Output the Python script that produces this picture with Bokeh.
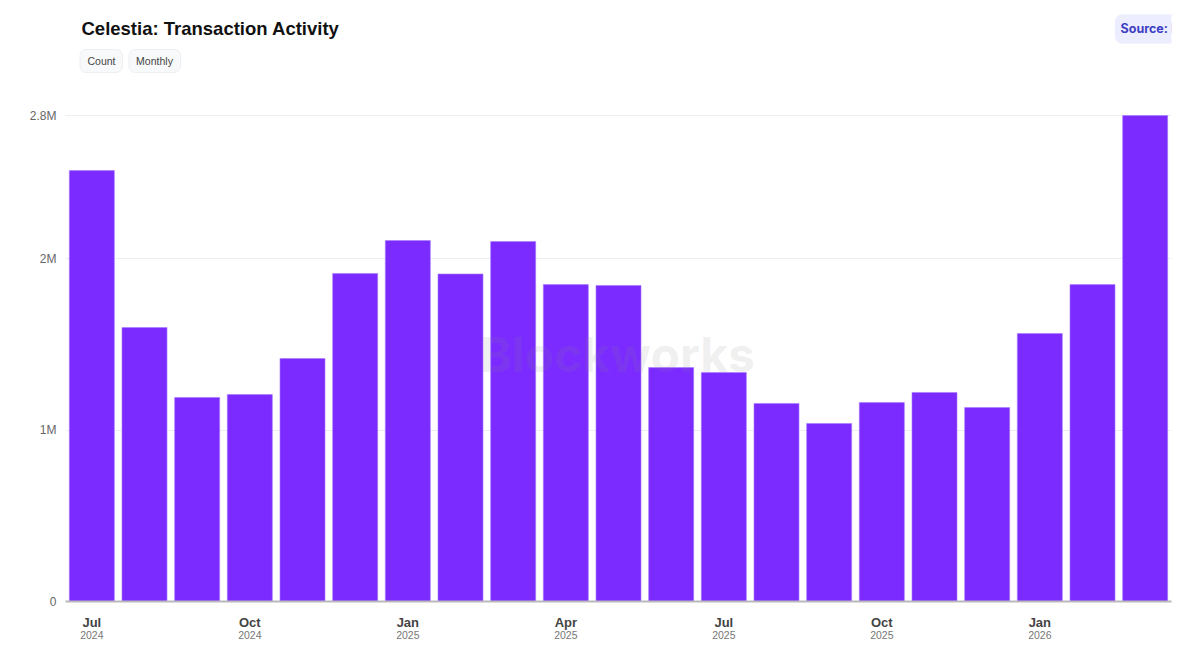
from bokeh.embed import file_html
from bokeh.layouts import column
from bokeh.models import BoxAnnotation, ColumnDataSource, FixedTicker, Label, LinearAxis
from bokeh.plotting import figure
from bokeh.resources import INLINE

months = ["Jul 2024", "Aug 2024", "Sep 2024", "Oct 2024", "Nov 2024", "Dec 2024", "Jan 2025",
          "Feb 2025", "Mar 2025", "Apr 2025", "May 2025", "Jun 2025", "Jul 2025", "Aug 2025",
          "Sep 2025", "Oct 2025", "Nov 2025", "Dec 2025", "Jan 2026", "Feb 2026", "Mar 2026"]
tx_count = [2513000, 1598000, 1190000, 1207000, 1417000, 1913000, 2105000,
            1910000, 2099000, 1848000, 1843000, 1364000, 1335000, 1155000,
            1038000, 1160000, 1219000, 1131000, 1563000, 1848000, 2834000]
y_ticks = [0, 1000000, 2000000, 2834000]
y_labels = ["0", "1M", "2M", "2.8M"]
x_ticks = [0, 3, 6, 9, 12, 15, 18]

WIDTH = 1192
HEADER_H = 90
CHART_H = 561
FRAME_LEFT = 65
SANS = "Liberation Sans"

source = ColumnDataSource(data=dict(x=list(range(len(months))), count=tx_count))

# annotations get clipped to the frame, so title and pills live in their own strip on top
header = figure(width=WIDTH, height=HEADER_H, x_range=(0, 1), y_range=(0, 1), output_backend="svg",
                toolbar_location=None, x_axis_type=None, y_axis_type=None,
                min_border_left=0, min_border_right=0, min_border_top=0, min_border_bottom=0)
header.outline_line_color = None
header.grid.visible = False

p = figure(width=WIDTH, height=CHART_H, x_range=(-0.5, len(months) - 0.5), y_range=(0, 2840000),
           output_backend="svg", toolbar_location=None, x_axis_type=None,
           min_border_left=FRAME_LEFT, min_border_right=21, min_border_top=114 - HEADER_H,
           min_border_bottom=HEADER_H + CHART_H - 601)
p.outline_line_color = None
p.background_fill_color = "white"

p.vbar(x="x", top="count", width=0.855, source=source, fill_color="#7b2bff",
       line_color="#a878ff", line_width=0.6)

# y axis, top tick sits on the max value
p.yaxis.ticker = FixedTicker(ticks=y_ticks)
p.yaxis.major_label_overrides = dict(zip(y_ticks, y_labels))
p.yaxis.axis_line_color = None
p.yaxis.major_tick_line_color = None
p.yaxis.minor_tick_line_color = None
p.yaxis.major_label_standoff = 3
p.yaxis.major_label_text_font = SANS
p.yaxis.major_label_text_font_size = "12px"
p.yaxis.major_label_text_color = "#666666"
p.ygrid.ticker = FixedTicker(ticks=y_ticks)
p.ygrid.grid_line_color = "#eeeeee"
p.xgrid.grid_line_color = None

# month and year are two stacked axes
month_axis = LinearAxis(ticker=FixedTicker(ticks=x_ticks),
                        major_label_overrides={i: months[i].split()[0] for i in x_ticks})
month_axis.axis_line_color = "#b9b9bd"
month_axis.axis_line_width = 2
month_axis.major_tick_line_color = None
month_axis.minor_tick_line_color = None
month_axis.major_label_standoff = 7
month_axis.major_label_text_font = SANS
month_axis.major_label_text_font_style = "bold"
month_axis.major_label_text_font_size = "13px"
month_axis.major_label_text_color = "#444444"
p.add_layout(month_axis, "below")

year_axis = LinearAxis(ticker=FixedTicker(ticks=x_ticks),
                       major_label_overrides={i: months[i].split()[1] for i in x_ticks})
year_axis.axis_line_color = None
year_axis.major_tick_line_color = None
year_axis.minor_tick_line_color = None
year_axis.major_label_standoff = -8
year_axis.major_label_text_font = SANS
year_axis.major_label_text_font_size = "10.5px"
year_axis.major_label_text_color = "#777777"
p.add_layout(year_axis, "below")


# screen units of annotations count from the frame's lower left corner
def pill(left, right, top, bottom, fill, line, radius):
    box = BoxAnnotation(left=left, right=right, top=HEADER_H - top, bottom=HEADER_H - bottom,
                        left_units="screen", right_units="screen", top_units="screen", bottom_units="screen",
                        fill_color=fill, fill_alpha=1, line_color=line, line_width=1, border_radius=radius)
    header.add_layout(box)


def label(x, y, text, size, color, font=SANS, style="normal", align="left"):
    header.add_layout(Label(x=x, y=HEADER_H - y, x_units="screen", y_units="screen", text=text,
                            text_font=font, text_font_size=size, text_font_style=style, text_color=color,
                            text_align=align, text_baseline="middle"))


label(16, 28, "Celestia: Transaction Activity", "18.5px", "#111111", style="bold")

pill(14.5, 57, 49, 72, "#f8f9fa", "#cfcfd4", 6)
label(36, 60, "Count", "10.5px", "#444444", align="center")
pill(63.5, 115, 49, 72, "#f8f9fa", "#cfcfd4", 6)
label(89, 60, "Monthly", "10.5px", "#444444", align="center")

pill(1049.5, 1184, 14, 43, "#eceeff", "#eceeff", 7)
label(1116, 28, "Source: Blockworks", "12.5px", "#3f3fc4", font="Inter", style="bold", align="center")

p.add_layout(Label(x=617 - FRAME_LEFT, y=601 - 354, x_units="screen", y_units="screen", text="Blockworks",
                   text_font="Inter", text_font_size="48px", text_font_style="bold", text_color="#888888",
                   text_align="center", text_baseline="middle", text_alpha=0.13))

open("out.html", "w").write(file_html(column(header, p, spacing=0), INLINE))
